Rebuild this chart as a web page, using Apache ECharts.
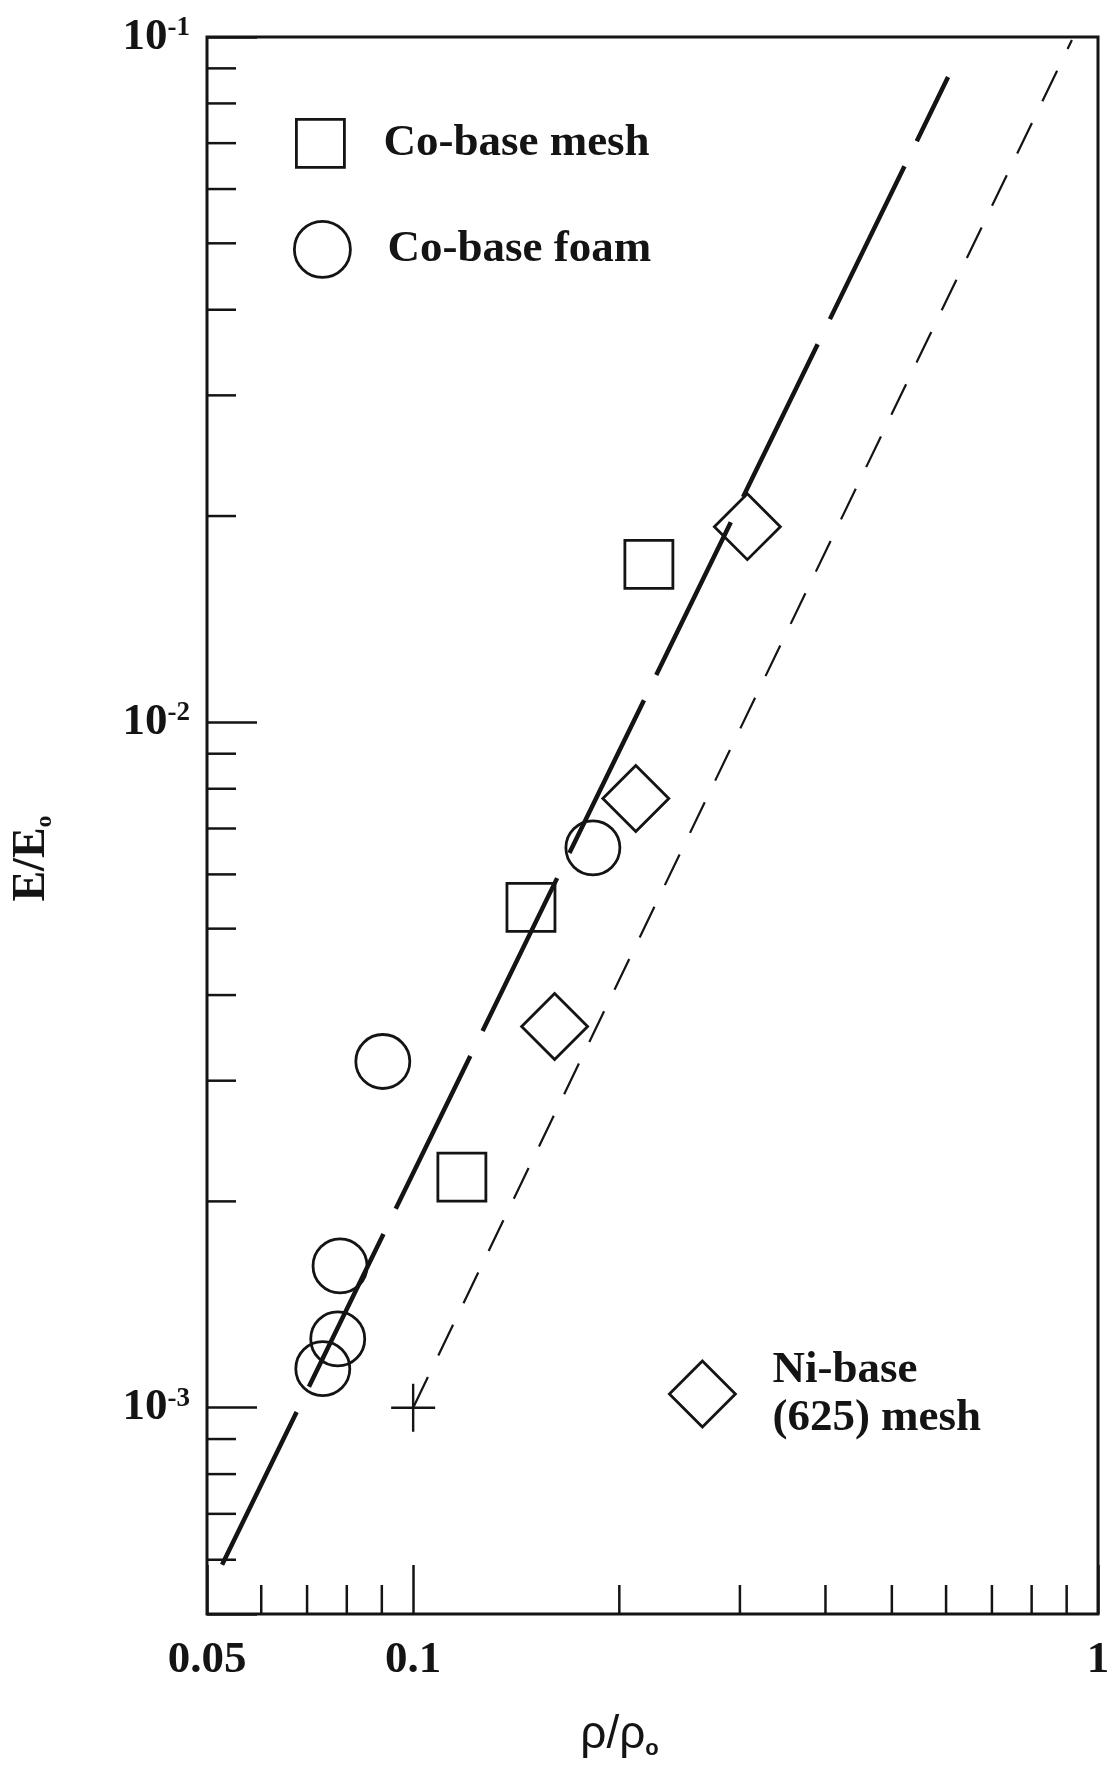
<!DOCTYPE html>
<html>
<head>
<meta charset="utf-8">
<script src="https://cdn.jsdelivr.net/npm/echarts@6/dist/echarts.min.js"></script>
<style>
html, body { margin: 0; padding: 0; background: #fff; }
#chart { width: 1110px; height: 1775px; }
</style>
</head>
<body>
<div id="chart"></div>
<script>
// values: [rho/rho0, E/E0]
var coMesh = [[0.2209, 0.0170], [0.1486, 0.00537], [0.1178, 0.00217]];
var coFoam = [[0.183, 0.00656], [0.0903, 0.0032], [0.0782, 0.00161], [0.0776, 0.00126], [0.0738, 0.00114]];
var niMesh = [[0.3076, 0.0193], [0.2114, 0.00774], [0.1609, 0.0036]];
var refPoint = [[0.1, 0.001]];
// the two guide lines, end points as drawn
var lineCo = [[0.0526, 0.00059], [0.604, 0.0874]];
var lineNi = [[0.1, 0.001], [0.916, 0.099]];

var xRange = [0.05, 1];
var yRange = [0.0005, 0.1];
var xMinorTicks = [0.06, 0.07, 0.08, 0.09, 0.2, 0.3, 0.4, 0.5, 0.6, 0.7, 0.8, 0.9];
var yMinorTicks = [0.0006, 0.0007, 0.0008, 0.0009,
    0.002, 0.003, 0.004, 0.005, 0.006, 0.007, 0.008, 0.009,
    0.02, 0.03, 0.04, 0.05, 0.06, 0.07, 0.08, 0.09];

var INK = '#141414';
var SERIF = '"Liberation Serif", "DejaVu Serif", serif';
var SANS = '"Liberation Sans", Arial, sans-serif';

var hollow = { color: 'rgba(255,255,255,0)', borderColor: INK, borderWidth: 2.8, opacity: 1 };
var legendText = { fontFamily: SERIF, fontWeight: 'bold', fontSize: 45, color: INK };

// minor ticks drawn through the axes' own log scales
function minorTicks(values, dir) {
    var data = values.map(function (v) {
        return dir === 'x' ? [v, yRange[0]] : [xRange[0], v];
    });
    return {
        type: 'custom',
        silent: true,
        z: 5,
        data: data,
        renderItem: function (params, api) {
            var p = api.coord([api.value(0), api.value(1)]);
            var shape = dir === 'x'
                ? { x1: p[0], y1: p[1], x2: p[0], y2: p[1] - 29 }
                : { x1: p[0], y1: p[1], x2: p[0] + 29, y2: p[1] };
            return { type: 'line', shape: shape, style: { stroke: INK, lineWidth: 2.5 } };
        }
    };
}

var chart = echarts.init(document.getElementById('chart'), null, { renderer: 'canvas' });

chart.setOption({
    backgroundColor: '#fff',
    animation: false,
    grid: {
        left: 207, top: 37, width: 891, height: 1577,
        show: true, borderColor: INK, borderWidth: 3,
        containLabel: false, outerBoundsMode: 'none'
    },
    legend: [
        {
            data: ['Co-base mesh'], left: 295, top: 118, padding: 0,
            itemWidth: 48, itemHeight: 48, selectedMode: false,
            itemStyle: { borderWidth: 2.8, opacity: 1 },
            textStyle: Object.assign({ padding: [0, 0, 14, 34] }, legendText)
        },
        {
            data: ['Co-base foam'], left: 293, top: 220, padding: 0,
            itemWidth: 56, itemHeight: 56, selectedMode: false,
            itemStyle: { borderWidth: 2.8, opacity: 1 },
            textStyle: Object.assign({ padding: [0, 0, 6, 32] }, legendText)
        },
        {
            data: ['Ni-base (625) mesh'], left: 668, top: 1333, padding: 0,
            itemWidth: 66, itemHeight: 66, selectedMode: false,
            itemStyle: { borderWidth: 2.8, opacity: 1 },
            formatter: function () { return 'Ni-base\n(625) mesh'; },
            textStyle: Object.assign({ padding: [26, 0, 0, 32], lineHeight: 48 }, legendText)
        }
    ],
    xAxis: {
        type: 'log', logBase: 10, min: xRange[0], max: xRange[1],
        axisLine: { show: false },
        splitLine: { show: false },
        axisTick: { show: true, inside: true, length: 49, lineStyle: { color: INK, width: 2.5 } },
        axisLabel: {
            margin: 24, interval: 0, showMinLabel: true, showMaxLabel: true,
            fontFamily: SERIF, fontWeight: 'bold', fontSize: 45, color: INK,
            formatter: function (v) { return String(+(+v).toPrecision(3)); }
        },
        name: '{a|ρ/ρ}{s|o}',
        nameLocation: 'middle',
        nameGap: 96,
        nameTextStyle: {
            padding: [0, 66, 0, 0],
            rich: {
                a: { fontFamily: SANS, fontSize: 46, color: INK, lineHeight: 50 },
                s: { fontFamily: SANS, fontSize: 22, fontWeight: 'bold', color: INK, verticalAlign: 'bottom', lineHeight: 50 }
            }
        }
    },
    yAxis: {
        type: 'log', logBase: 10, min: yRange[0], max: yRange[1],
        axisLine: { show: false },
        splitLine: { show: false },
        axisTick: { show: true, inside: true, length: 50, lineStyle: { color: INK, width: 2.5 } },
        axisLabel: {
            margin: 17, interval: 0, showMinLabel: true, showMaxLabel: true,
            formatter: function (v) {
                var e = Math.round(Math.log10(v));
                if (Math.abs(Math.pow(10, e) - v) / v > 1e-6) return '';
                return '{b|10}{s|' + e + '}';
            },
            rich: {
                b: { fontFamily: SERIF, fontWeight: 'bold', fontSize: 45, color: INK },
                s: { fontFamily: SERIF, fontWeight: 'bold', fontSize: 27, color: INK, verticalAlign: 'top' }
            }
        },
        name: '{a|E/E}{s|o}',
        nameLocation: 'middle',
        nameGap: 150,
        nameTextStyle: {
            padding: [0, 66, 0, 0],
            rich: {
                a: { fontFamily: SERIF, fontWeight: 'bold', fontSize: 46, color: INK, lineHeight: 50 },
                s: { fontFamily: SERIF, fontWeight: 'bold', fontSize: 24, color: INK, verticalAlign: 'bottom', lineHeight: 50 }
            }
        }
    },
    series: [
        minorTicks(xMinorTicks, 'x'),
        minorTicks(yMinorTicks, 'y'),
        {
            name: 'fit Co', type: 'line', data: lineCo, symbol: 'none', silent: true, z: 2,
            lineStyle: { color: INK, width: 4.5, type: [170, 28] }
        },
        {
            name: 'fit Ni', type: 'line', data: lineNi, symbol: 'none', silent: true, z: 2,
            lineStyle: { color: INK, width: 2.2, type: [34, 24] }
        },
        {
            name: 'Co-base mesh', type: 'scatter', data: coMesh, symbol: 'rect',
            symbolSize: 48, itemStyle: hollow, z: 4
        },
        {
            name: 'Co-base foam', type: 'scatter', data: coFoam, symbol: 'circle',
            symbolSize: 54, itemStyle: hollow, z: 4
        },
        {
            name: 'Ni-base (625) mesh', type: 'scatter', data: niMesh, symbol: 'diamond',
            symbolSize: 66, itemStyle: hollow, z: 4
        },
        {
            name: 'reference', type: 'scatter', data: refPoint,
            symbol: 'path://M5,0L5,10M0,5L10,5', symbolSize: [44, 48],
            itemStyle: { color: 'none', borderColor: INK, borderWidth: 2.5, opacity: 1 }, z: 4
        }
    ]
});
</script>
</body>
</html>
